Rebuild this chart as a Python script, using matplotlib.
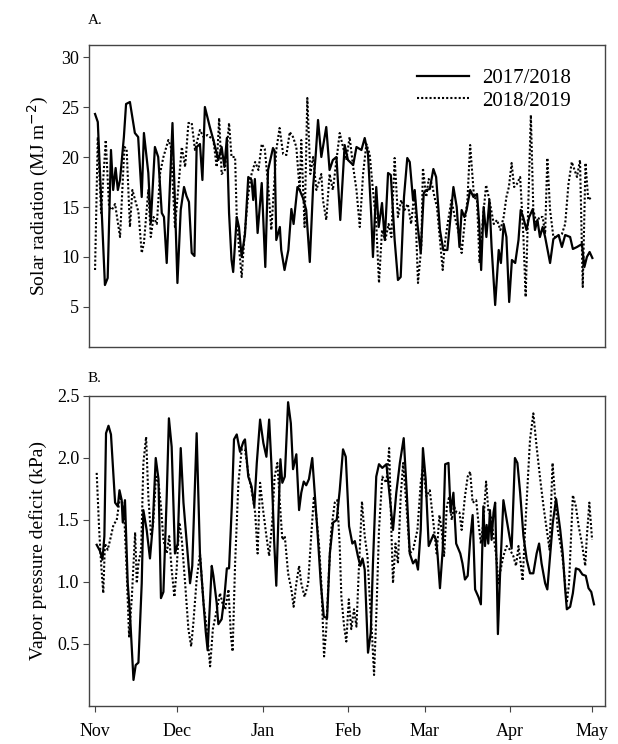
import numpy as np
import matplotlib
matplotlib.use('Agg')
import matplotlib.pyplot as plt

# day of season (0 = 1 Nov) and daily values
month_days   = [0, 30, 61, 92, 120, 151, 181]
month_labels = ['Nov', 'Dec', 'Jan', 'Feb', 'Mar', 'Apr', 'May']

# A. solar radiation (MJ m-2)
srad_days_1718 = [0.0, 1.0, 3.6, 4.6, 5.8, 6.6, 7.5, 8.3, 9.1, 10.5, 11.3, 12.7, 14.5, 15.7, 17.0, 17.8,
                  19.4, 20.3, 21.8, 23.0, 24.3, 25.1, 26.1, 28.2, 30.0, 31.2, 32.4, 33.3, 34.2, 35.2, 36.2,
                  37.0, 38.2, 39.1, 40.0, 41.8, 43.1, 44.9, 46.1, 47.1, 48.0, 48.8, 49.7, 50.3, 51.6, 52.4,
                  53.4, 54.6, 55.8, 57.0, 57.6, 58.2, 59.2, 60.7, 62.0, 63.0, 64.8, 65.4, 66.0, 67.3, 67.8,
                  69.0, 70.4, 71.5, 72.3, 73.7, 74.5, 75.7, 76.9, 78.2, 79.4, 80.3, 81.2, 82.4, 84.2, 85.4,
                  86.6, 87.9, 89.3, 90.9, 92.1, 94.0, 95.2, 97.0, 98.2, 99.4, 100.6, 101.2, 102.4, 103.3,
                  104.5, 105.5, 106.7, 107.7, 109.1, 110.3, 111.3, 112.5, 113.7, 114.6, 115.8, 116.4, 117.4,
                  118.6, 119.7, 120.7, 121.9, 123.2, 124.2, 125.6, 126.8, 128.3, 130.5, 131.7, 132.7, 133.5,
                  134.5, 135.3, 136.6, 137.8, 139.1, 139.9, 140.6, 141.5, 142.5, 143.6, 144.4, 145.7, 147.0,
                  147.8, 148.8, 149.8, 150.8, 151.8, 153.0, 154.2, 155.0, 155.9, 157.1, 158.1, 159.4, 160.2,
                  161.1, 162.0, 163.0, 163.9, 165.7, 166.9, 168.8, 170.0, 171.2, 173.0, 174.0, 175.5, 177.3,
                  178.2, 179.1, 180.1, 181.1]
srad_1718 = [24.3, 23.5, 7.2, 7.9, 20.7, 16.7, 18.9, 16.7, 17.7, 22.0, 25.3, 25.5, 22.4, 22.0, 16.0, 22.4,
             18.4, 13.4, 21.0, 20.0, 14.4, 14.0, 9.4, 23.4, 7.4, 14.7, 17.0, 16.1, 15.5, 10.4, 10.1,
             21.0, 21.3, 17.7, 25.0, 23.0, 21.7, 19.7, 21.0, 19.0, 21.9, 14.4, 9.7, 8.5, 14.0, 13.0,
             10.0, 12.3, 18.0, 17.7, 15.7, 17.8, 12.4, 17.4, 9.0, 18.7, 20.9, 20.6, 11.7, 13.0, 10.7,
             8.7, 10.7, 14.8, 13.3, 17.0, 16.7, 15.9, 14.7, 9.5, 17.0, 20.0, 23.7, 20.0, 23.0, 18.7,
             19.7, 20.0, 13.7, 21.2, 19.7, 19.2, 21.0, 20.7, 21.9, 20.3, 14.0, 10.0, 17.0, 13.0,
             15.4, 11.7, 18.4, 18.2, 11.7, 7.7, 8.0, 16.0, 19.9, 19.5, 15.7, 16.7, 13.3,
             10.4, 16.4, 16.7, 16.8, 18.8, 18.0, 12.7, 10.7, 10.7, 17.0, 15.0, 11.0, 14.7,
             14.0, 14.7, 16.7, 16.0, 16.3, 13.3, 8.7, 15.0, 12.0, 15.7, 11.0, 5.2, 10.7,
             9.4, 13.3, 12.0, 5.5, 9.7, 9.4, 11.7, 14.7, 14.0, 12.7, 14.0, 14.8, 12.7,
             13.7, 12.0, 13.0, 12.0, 9.4, 11.8, 12.2, 11.0, 12.2, 12.0, 10.8, 11.0, 11.3,
             9.0, 10.0, 10.5, 9.9]

srad_days_1819 = [0.0, 1.0, 2.2, 3.9, 5.1, 6.1, 7.3, 9.1, 10.7, 11.5, 12.7, 13.6, 14.6, 15.8, 17.0, 17.8,
                  19.4, 20.3, 21.3, 22.5, 23.7, 24.9, 26.7, 27.6, 29.1, 31.6, 32.8, 34.0, 35.2, 36.4, 38.2,
                  39.5, 41.0, 43.1, 44.3, 45.2, 46.1, 47.3, 48.8, 49.7, 51.0, 51.6, 52.4, 53.4, 54.3, 55.8,
                  57.0, 58.3, 59.5, 60.7, 61.8, 63.0, 64.2, 66.0, 67.2, 68.5, 69.7, 70.9, 72.1, 73.3, 74.5,
                  75.1, 76.3, 77.3, 78.4, 79.4, 80.6, 82.4, 83.0, 84.2, 85.4, 86.6, 87.9, 89.1, 90.3, 91.5,
                  92.7, 94.0, 95.2, 96.4, 97.6, 98.8, 100.0, 101.2, 102.4, 103.4, 104.5, 105.7, 106.9, 107.9,
                  109.1, 110.3, 111.5, 112.7, 113.9, 115.1, 116.4, 117.6, 118.8, 119.4, 120.6, 121.5, 122.7,
                  123.6, 124.5, 126.6, 127.4, 128.6, 129.8, 131.0, 132.2, 133.5, 134.7, 135.6, 136.6, 138.0,
                  139.1, 140.0, 141.3, 142.4, 143.6, 145.2, 146.4, 147.6, 148.8, 149.8, 150.7, 151.7, 152.6,
                  153.6, 154.8, 156.0, 156.8, 157.8, 158.7, 159.6, 160.8, 161.8, 163.0, 163.9, 164.7, 165.7,
                  166.9, 168.5, 170.0, 171.2, 172.4, 173.6, 174.6, 175.5, 176.6, 177.6, 178.6, 179.6, 180.8]
srad_1819 = [8.7, 22.0, 14.4, 21.7, 15.0, 14.7, 15.3, 12.0, 21.0, 20.8, 13.0, 16.7, 15.7, 14.5, 10.4, 11.4,
             16.7, 12.0, 14.0, 13.3, 18.4, 20.0, 21.7, 21.0, 13.0, 21.0, 19.0, 23.4, 23.4, 20.7, 22.7,
             22.0, 22.2, 21.7, 19.0, 23.9, 18.3, 18.7, 23.4, 20.0, 20.0, 14.0, 11.0, 8.0, 11.7, 16.3,
             18.3, 19.5, 18.7, 21.3, 20.8, 17.3, 12.7, 20.7, 22.9, 20.3, 20.2, 22.5, 22.0, 21.0, 16.7,
             21.7, 13.0, 25.9, 18.3, 20.0, 16.7, 18.3, 15.7, 13.7, 18.3, 16.7, 19.7, 22.4, 21.0, 19.7,
             22.0, 19.0, 16.7, 13.0, 18.3, 21.3, 20.3, 16.7, 13.3, 7.4, 12.7, 11.7, 13.3, 12.0,
             19.9, 14.0, 15.7, 14.7, 15.3, 13.3, 16.7, 7.4, 11.0, 18.9, 16.0, 17.8, 17.3,
             16.0, 15.0, 8.7, 11.4, 13.7, 15.7, 14.0, 12.7, 10.4, 13.7, 15.7, 21.2, 16.0,
             15.7, 9.4, 14.0, 17.2, 15.7, 13.3, 13.7, 12.7, 14.0, 16.0, 17.0, 19.4, 17.0,
             17.3, 18.0, 12.0, 6.0, 15.7, 24.2, 14.7, 13.3, 14.0, 14.0, 12.3, 19.9, 14.7,
             12.0, 12.0, 12.3, 13.3, 17.3, 19.5, 18.7, 18.0, 19.7, 7.0, 19.4, 15.7, 16.0]

# B. vapor pressure deficit (kPa)
vpd_days_1718 = [0.6, 1.8, 2.7, 3.4, 4.0, 4.9, 5.8, 7.3, 8.3, 8.9, 9.7, 10.1, 10.9, 11.9, 12.7, 14.0,
                 14.8, 15.8, 17.0, 17.6, 18.8, 20.0, 21.0, 22.1, 23.1, 24.0, 24.9, 26.1, 26.9, 27.9, 29.1,
                 30.1, 31.2, 32.2, 33.4, 34.6, 35.4, 37.0, 38.2, 39.5, 40.3, 41.0, 42.5, 43.1, 44.3, 44.9,
                 46.1, 47.1, 48.0, 48.8, 49.8, 50.6, 51.6, 52.8, 54.0, 54.6, 55.8, 57.0, 58.0, 58.9, 60.1,
                 61.3, 62.4, 63.4, 64.2, 65.2, 66.0, 66.9, 67.5, 68.2, 69.1, 70.3, 71.3, 72.1, 73.3, 74.3,
                 75.1, 76.0, 76.9, 77.9, 79.1, 80.2, 81.2, 82.2, 83.3, 84.5, 85.5, 86.7, 88.0, 89.1, 90.3,
                 91.3, 92.5, 93.7, 94.6, 95.7, 96.6, 97.4, 98.2, 99.4, 100.4, 101.2, 102.4, 103.4, 104.6,
                 106.1, 107.3, 108.5, 109.7, 111.0, 112.4, 113.4, 114.6, 115.8, 116.8, 117.6, 118.6, 119.4,
                 120.4, 121.5, 123.2, 124.2, 124.7, 125.6, 126.6, 127.5, 128.7, 129.5, 130.5, 131.5, 133.0,
                 133.8, 134.7, 135.7, 136.6, 137.5, 138.4, 139.6, 140.5, 141.4, 142.0, 142.6, 143.2, 143.8,
                 144.4, 145.1, 145.7, 146.3, 146.7, 147.5, 148.7, 149.9, 150.9, 151.7, 152.9, 153.8, 154.8,
                 156.0, 157.2, 158.4, 159.6, 160.8, 161.7, 162.6, 163.9, 164.7, 165.7, 166.7, 167.9, 169.4,
                 170.3, 171.2, 171.8, 173.0, 174.0, 175.1, 176.3, 177.5, 178.7, 179.7, 180.7, 181.7]
vpd_1718 = [1.30, 1.25, 1.18, 1.37, 2.20, 2.26, 2.19, 1.64, 1.61, 1.74, 1.66, 1.48, 1.66, 0.99, 0.75, 0.21,
            0.33, 0.35, 0.99, 1.58, 1.42, 1.19, 1.45, 2.00, 1.83, 0.87, 0.92, 1.69, 2.32, 2.09, 1.23,
            1.31, 2.08, 1.64, 1.31, 0.99, 1.13, 2.20, 1.23, 0.83, 0.60, 0.45, 1.13, 1.05, 0.83, 0.66,
            0.70, 0.88, 1.11, 1.11, 1.61, 2.15, 2.19, 2.05, 2.13, 2.15, 1.85, 1.77, 1.61, 1.96, 2.31,
            2.12, 2.01, 2.31, 1.96, 1.34, 0.97, 1.61, 1.99, 1.80, 1.85, 2.45, 2.28, 1.91, 2.03, 1.58,
            1.72, 1.81, 1.78, 1.83, 2.00, 1.66, 1.34, 0.99, 0.72, 0.71, 1.23, 1.48, 1.50, 1.74, 2.07,
            2.01, 1.45, 1.31, 1.33, 1.21, 1.13, 1.19, 1.10, 0.43, 0.59, 1.15, 1.85, 1.95, 1.92,
            1.95, 1.69, 1.42, 1.72, 1.96, 2.16, 1.77, 1.23, 1.15, 1.18, 1.10, 1.42, 2.08,
            1.83, 1.29, 1.38, 1.34, 1.23, 0.95, 1.26, 1.95, 1.96, 1.56, 1.72, 1.31, 1.23,
            1.15, 1.02, 1.05, 1.34, 1.54, 0.94, 0.88, 0.82, 1.61, 1.29, 1.46, 1.31, 1.58,
            1.34, 1.56, 1.64, 1.05, 0.58, 1.07, 1.66, 1.50, 1.37, 1.27, 2.00, 1.96, 1.72,
            1.37, 1.18, 1.07, 1.07, 1.23, 1.31, 1.15, 0.99, 0.94, 1.21, 1.48, 1.67, 1.42,
            1.23, 0.94, 0.78, 0.80, 0.91, 1.11, 1.10, 1.06, 1.05, 0.95, 0.92, 0.82]

vpd_days_1819 = [0.6, 1.5, 2.2, 3.0, 3.6, 4.6, 5.5, 6.7, 7.9, 9.1, 9.9, 10.7, 11.5, 12.4, 13.4, 14.6,
                 15.2, 15.8, 16.8, 17.6, 18.6, 19.4, 20.4, 21.2, 22.2, 23.1, 24.0, 24.9, 26.1, 27.0, 27.9,
                 28.9, 29.7, 30.7, 31.6, 32.8, 34.0, 35.0, 35.8, 37.0, 38.2, 39.5, 40.7, 41.9, 42.9, 44.1,
                 45.5, 46.4, 47.4, 48.6, 49.5, 50.1, 51.0, 52.2, 53.4, 54.6, 55.8, 57.0, 58.3, 59.2, 60.1,
                 61.2, 62.4, 63.4, 64.5, 65.4, 66.4, 67.3, 68.2, 69.1, 70.3, 71.5, 72.3, 73.3, 74.3, 75.1,
                 76.3, 77.6, 78.8, 79.7, 80.6, 81.6, 82.4, 83.4, 84.2, 85.2, 86.0, 87.3, 88.2, 89.1, 89.7,
                 90.7, 91.5, 92.4, 93.3, 94.3, 95.2, 96.0, 97.2, 98.2, 99.2, 100.0, 100.9, 101.6, 102.5,
                 103.4, 104.6, 106.1, 107.1, 107.9, 108.5, 109.4, 110.3, 111.3, 112.2, 113.4, 114.6, 115.8,
                 117.4, 118.6, 119.4, 120.7, 121.9, 123.2, 124.4, 125.4, 126.2, 127.1, 128.1, 129.0, 129.9,
                 130.7, 131.7, 132.7, 133.5, 134.7, 135.7, 136.6, 137.5, 138.8, 139.6, 140.5, 141.4, 142.4,
                 143.2, 144.1, 145.1, 146.1, 146.9, 147.7, 148.7, 149.9, 151.1, 152.3, 153.3, 154.2, 155.0,
                 155.7, 156.6, 157.6, 158.4, 159.6, 160.8, 162.1, 163.3, 164.5, 165.5, 166.6, 167.5, 168.5,
                 169.6, 170.5, 171.8, 172.6, 173.2, 174.0, 175.1, 176.1, 177.3, 178.5, 179.1, 180.0, 181.0]
vpd_1819 = [1.88, 1.42, 1.15, 0.91, 1.31, 1.26, 1.34, 1.46, 1.50, 1.69, 1.64, 1.50, 1.10, 0.56, 0.88, 1.40,
            0.99, 1.15, 1.26, 1.96, 2.17, 1.69, 1.37, 1.48, 1.85, 1.80, 1.61, 1.34, 1.23, 1.37, 1.10,
            0.88, 1.10, 1.48, 1.34, 0.99, 0.62, 0.48, 0.67, 1.02, 1.23, 0.83, 0.62, 0.32, 0.62, 0.75,
            0.91, 0.83, 0.78, 0.94, 0.56, 0.44, 1.15, 1.80, 2.07, 2.07, 1.88, 1.74, 1.56, 1.23, 1.80,
            1.58, 1.37, 1.21, 1.48, 1.85, 1.96, 1.64, 1.34, 1.37, 1.07, 0.94, 0.80, 0.99, 1.13, 0.99,
            0.88, 0.99, 1.40, 1.69, 1.53, 1.29, 0.99, 0.40, 0.62, 1.10, 1.42, 1.64, 1.66, 1.29, 0.88,
            0.64, 0.52, 0.86, 0.62, 0.78, 0.64, 1.07, 1.65, 1.37, 1.21, 0.88, 0.56, 0.25, 0.78,
            1.42, 1.85, 1.80, 2.08, 1.42, 0.99, 1.31, 1.15, 1.69, 1.96, 1.61, 1.23, 1.26,
            1.42, 1.80, 1.93, 1.69, 1.74, 1.48, 1.23, 1.54, 1.42, 1.21, 1.61, 1.69, 1.50,
            1.61, 1.56, 1.56, 1.42, 1.69, 1.85, 1.89, 1.64, 1.66, 1.48, 1.31, 1.48, 1.81,
            1.58, 1.53, 1.37, 1.21, 0.99, 1.10, 1.21, 1.29, 1.26, 1.21, 1.13, 1.29, 1.15,
            1.01, 1.42, 1.83, 2.15, 2.36, 2.09, 1.83, 1.61, 1.42, 1.26, 1.96, 1.69, 1.42,
            1.29, 1.15, 0.83, 0.99, 1.29, 1.70, 1.61, 1.45, 1.31, 1.13, 1.37, 1.64, 1.34]


def style_axis(ax):
    for s in ax.spines.values():
        s.set_color('#444444')
        s.set_linewidth(1.0)
    ax.tick_params(axis='both', direction='out', length=4, width=0.8, color='#444444',
                   labelsize=13, pad=3)
    ax.set_xlim(-2.2, 185.7)
    ax.set_xticks(month_days)


plt.rcParams['font.family'] = ['Liberation Serif', 'DejaVu Serif']

fig = plt.figure(figsize=(6.18, 7.44), dpi=100)
ax_a = fig.add_axes([89 / 618, 1 - 347 / 744, 516 / 618, 302 / 744])
ax_b = fig.add_axes([89 / 618, 1 - 706 / 744, 516 / 618, 310 / 744])

solid_kw = dict(color='black', linewidth=1.6, linestyle='-')
dot_kw = dict(color='black', linewidth=1.5, linestyle=(0, (1, 1)))

ax_a.plot(srad_days_1718, srad_1718, label='2017/2018', **solid_kw)
ax_a.plot(srad_days_1819, srad_1819, label='2018/2019', **dot_kw)
style_axis(ax_a)
ax_a.set_ylim(1.0, 31.2)
ax_a.set_yticks([5, 10, 15, 20, 25, 30])
ax_a.tick_params(axis='x', bottom=False, labelbottom=False)
ax_a.set_ylabel('Solar radiation (MJ m$^{-2}$)', fontsize=14, labelpad=7)
ax_a.legend(loc='upper right', frameon=False, fontsize=15, handlelength=2.5,
            handletextpad=0.6, labelspacing=0.15, bbox_to_anchor=(0.97, 0.985))

ax_b.plot(vpd_days_1718, vpd_1718, **solid_kw)
ax_b.plot(vpd_days_1819, vpd_1819, **dot_kw)
style_axis(ax_b)
ax_b.set_ylim(0, 2.5)
ax_b.set_yticks([0.5, 1.0, 1.5, 2.0, 2.5])
ax_b.set_yticklabels(['0.5', '1.0', '1.5', '2.0', '2.5'])
ax_b.set_xticklabels(month_labels)
ax_b.tick_params(axis='x', pad=8)
ax_b.set_ylabel('Vapor pressure deficit (kPa)', fontsize=14, labelpad=7)

fig.text(88 / 618, 1 - 20 / 744, 'A.', fontsize=11, va='center', ha='left')
fig.text(88 / 618, 1 - 378 / 744, 'B.', fontsize=11, va='center', ha='left')

fig.savefig('out.png', dpi=100)
